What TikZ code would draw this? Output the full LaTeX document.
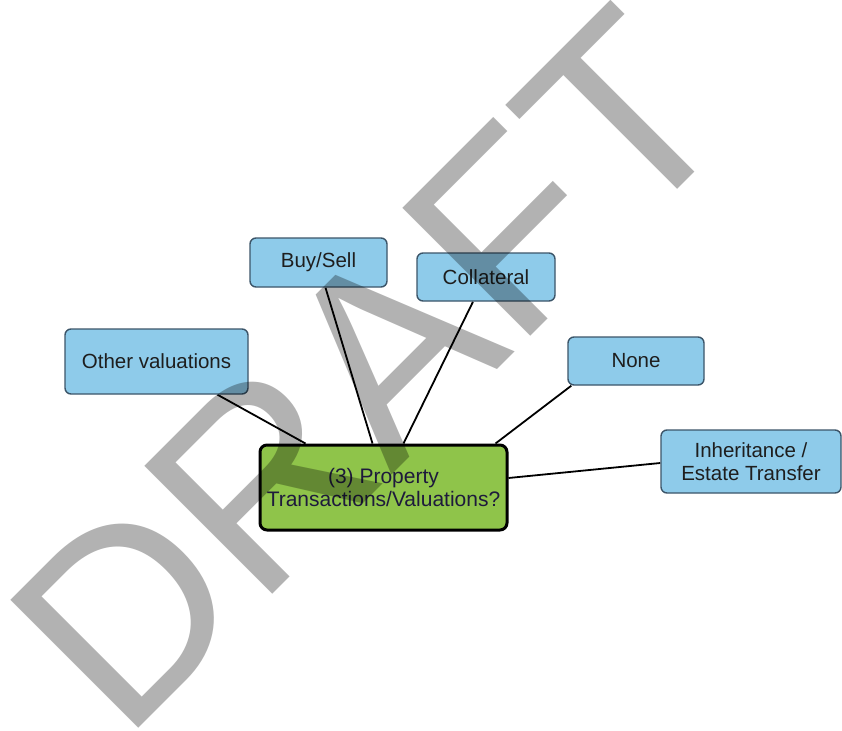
\documentclass[tikz,border=0pt]{standalone}
\usepackage{fontspec}
\setmainfont{Liberation Sans}
\usetikzlibrary{backgrounds}
\definecolor{boxblue}{RGB}{142,203,234}
\definecolor{boxedge}{RGB}{60,85,105}
\definecolor{boxgreen}{RGB}{143,196,74}
\definecolor{navytext}{RGB}{30,26,60}
\definecolor{darktext}{RGB}{30,30,30}
\begin{document}
\begin{tikzpicture}[x=1pt,y=-1pt,
  leaf/.style={draw=boxedge, line width=1.4pt, fill=boxblue, rounded corners=6pt,
    text=darktext, align=center, inner sep=0pt,
    font=\fontsize{20.5}{23.5}\selectfont},
  hub/.style={draw=black, line width=3pt, fill=boxgreen, rounded corners=7pt,
    text=navytext, align=center, inner sep=0pt,
    font=\fontsize{21}{22.5}\selectfont},
  link/.style={draw=black, line width=1.8pt},
  watermark/.style={rotate=45, anchor=base west, inner sep=0pt, text=black,
    text opacity=0.3, font=\fontsize{263}{263}\selectfont}]
\useasboundingbox (0,0) rectangle (842,730);
\node[hub, minimum width=247pt, minimum height=85pt] (hub) at (383.5,487.5)
  {(3) Property\\Transactions/Valuations?};
\node[leaf, minimum width=137pt, minimum height=49pt] (buy) at (318.5,262.5) {Buy/Sell};
\node[leaf, minimum width=138pt, minimum height=48pt] (col) at (486,277) {Collateral};
\node[leaf, minimum width=136pt, minimum height=48pt] (none) at (636,361) {None};
\node[leaf, minimum width=180pt, minimum height=63pt] (inh) at (751,461.5)
  {Inheritance /\\Estate Transfer};
\node[leaf, minimum width=183pt, minimum height=65pt] (ov) at (156.5,361.5) {Other valuations};
\begin{pgfonlayer}{background}
  \fill[white] (0,0) rectangle (842,730);
  \draw[link] ([xshift=61pt]ov.south) -- ([xshift=-78pt]hub.north);
  \draw[link] ([xshift=7pt]buy.south) -- ([xshift=-11pt]hub.north);
  \draw[link] ([xshift=-13pt]col.south) -- ([xshift=20pt]hub.north);
  \draw[link] ([xshift=4pt]none.south west) -- ([xshift=112pt]hub.north);
  \draw[link] ([yshift=-1.5pt]inh.west) -- ([yshift=9.5pt]hub.east);
\end{pgfonlayer}
\node[watermark] (wm) at (123,744) {DRAFT};
\end{tikzpicture}
\end{document}
